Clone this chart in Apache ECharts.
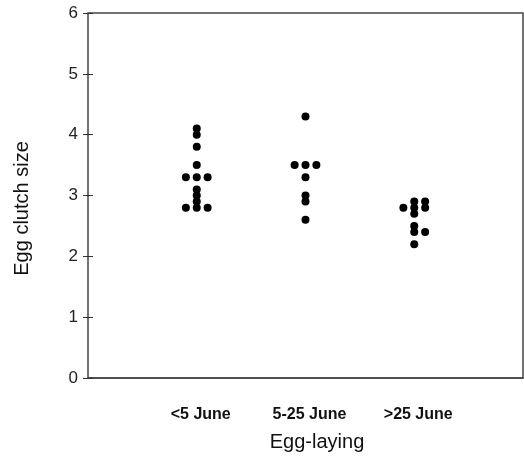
<!DOCTYPE html>
<html>
<head>
<meta charset="utf-8">
<script src="https://cdn.jsdelivr.net/npm/echarts@6/dist/echarts.min.js"></script>
<style>
	html, body { margin: 0; padding: 0; background: #fff; }
	#chart { width: 524px; height: 464px; }
</style>
</head>
<body>
<div id="chart"></div>
<script>
	// groups along the x axis
	var categories = ['<5 June', '5-25 June', '>25 June'];
	var yTicks = [0, 1, 2, 3, 4, 5, 6];

	// clutch sizes, with the column each dot sits in (-1 left, 0 middle, 1 right)
	var earlyValues = [4.1, 4.0, 3.8, 3.5, 3.3, 3.3, 3.3, 3.1, 3.0, 2.9, 2.8, 2.8, 2.8];
	var earlyCols   = [0, 0, 0, 0, -1, 0, 1, 0, 0, 0, -1, 0, 1];
	var midValues = [4.3, 3.5, 3.5, 3.5, 3.3, 3.0, 2.9, 2.6];
	var midCols   = [0, -1, 0, 1, 0, 0, 0, 0];
	var lateValues = [2.9, 2.8, 2.7, 2.8, 2.9, 2.8, 2.5, 2.4, 2.4, 2.2];
	var lateCols   = [0, 0, 0, -1, 1, 1, 0, 0, 1, 0];

	var colStep = 0.1;

	function toPoints(groupNo, values, cols) {
		var pts = [];
		for (var i = 0; i < values.length; i++) {
			pts.push([groupNo + cols[i] * colStep, values[i]]);
		}
		return pts;
	}

	var points = []
		.concat(toPoints(1, earlyValues, earlyCols))
		.concat(toPoints(2, midValues, midCols))
		.concat(toPoints(3, lateValues, lateCols));

	var chart = echarts.init(document.getElementById('chart'), null, { renderer: 'canvas' });

	chart.setOption({
		animation: false,
		backgroundColor: '#fff',
		grid: {
			left: 88,
			right: 1,
			top: 13,
			bottom: 86,
			outerBoundsMode: 'none',
			containLabel: false,
			show: true,
			borderColor: '#444',
			borderWidth: 1.5
		},
		xAxis: {
			type: 'value',
			min: 0,
			max: 4,
			interval: 1,
			name: 'Egg-laying',
			nameLocation: 'middle',
			nameGap: 54,
			nameTextStyle: {
				fontFamily: 'Liberation Sans',
				fontSize: 20,
				color: '#111',
				padding: [0, 0, 0, 23]
			},
			axisLine: { show: true, lineStyle: { color: '#444', width: 1.5 } },
			axisTick: { show: false },
			splitLine: { show: false },
			axisLabel: {
				margin: 29,
				fontFamily: 'Liberation Sans',
				fontSize: 16,
				fontWeight: 'bold',
				color: '#111',
				padding: [0, 0, 0, 8],
				formatter: function (v) {
					return categories[v - 1] || '';
				}
			}
		},
		yAxis: {
			// the grid border draws the left line; the axis sits 5px inside it so its ticks cross that line
			type: 'value',
			min: yTicks[0],
			max: yTicks[yTicks.length - 1],
			interval: 1,
			offset: -5,
			name: 'Egg clutch size',
			nameLocation: 'middle',
			nameGap: 61,
			nameTextStyle: {
				fontFamily: 'Liberation Sans',
				fontSize: 20,
				color: '#111',
				padding: [0, 26, 0, 0]
			},
			axisLine: { show: false, onZero: false },
			axisTick: { show: true, length: 10, lineStyle: { color: '#333', width: 1 } },
			splitLine: { show: false },
			axisLabel: {
				margin: 15,
				fontFamily: 'Liberation Sans',
				fontSize: 17,
				color: '#222'
			}
		},
		series: [{
			type: 'scatter',
			data: points,
			symbol: 'circle',
			symbolSize: 8,
			itemStyle: { color: '#000', opacity: 1 }
		}]
	});
</script>
</body>
</html>
